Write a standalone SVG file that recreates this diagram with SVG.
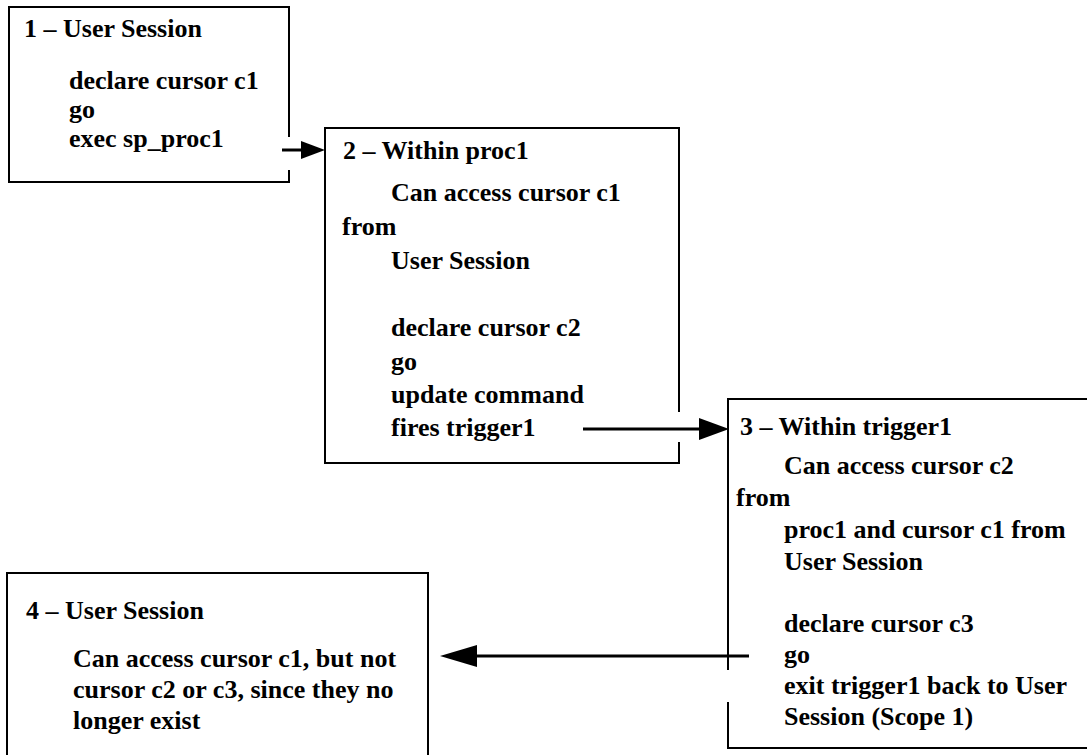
<svg xmlns="http://www.w3.org/2000/svg" width="1087" height="755" viewBox="0 0 1087 755">
<style>
.box{fill:none;stroke:#000;stroke-width:2}
text{font-family:'Liberation Serif','Times New Roman',serif;font-weight:700;font-size:26px;fill:#000}
.conn{fill:none;stroke:#000;stroke-width:3}
.head{fill:#000;stroke:none}
</style>
<rect width="1087" height="755" fill="#fff"/>
<g id="node1">
<path class="box" d="M289,137 V7 H9 V182 H289 V170"/>
<text x="24" y="37">1 – User Session</text>
<text x="69" y="89">declare cursor c1</text>
<text x="69" y="118">go</text>
<text x="69" y="147">exec sp_proc1</text>
</g>
<g id="node2">
<path class="box" d="M679,412 V128 H325 V463 H679 V442"/>
<text x="343" y="159">2 – Within proc1</text>
<text x="391" y="201">Can access cursor c1</text>
<text x="342" y="235">from</text>
<text x="391" y="269">User Session</text>
<text x="391" y="336">declare cursor c2</text>
<text x="391" y="370">go</text>
<text x="391" y="403">update command</text>
<text x="391" y="436">fires trigger1</text>
</g>
<g id="node3">
<path class="box" d="M1090,399 H728 V670 M728,702 V748 H1090"/>
<text x="740" y="435">3 – Within trigger1</text>
<text x="784" y="474">Can access cursor c2</text>
<text x="736" y="506">from</text>
<text x="784" y="538">proc1 and cursor c1 from</text>
<text x="784" y="570">User Session</text>
<text x="784" y="632">declare cursor c3</text>
<text x="784" y="663">go</text>
<text x="784" y="694">exit trigger1 back to User</text>
<text x="784" y="725">Session (Scope 1)</text>
</g>
<g id="node4">
<path class="box" d="M7,760 V573 H428 V760"/>
<text x="26" y="619">4 – User Session</text>
<text x="73" y="667">Can access cursor c1, but not</text>
<text x="73" y="698">cursor c2 or c3, since they no</text>
<text x="73" y="729">longer exist</text>
</g>
<g id="connectors">
<line class="conn" x1="282" y1="150" x2="304" y2="150"/>
<polygon class="head" points="325,150 301,141 301,159"/>
<line class="conn" x1="583" y1="429" x2="702" y2="429"/>
<polygon class="head" points="729,429 699,418 699,440"/>
<line class="conn" x1="749" y1="656" x2="474" y2="656"/>
<polygon class="head" points="440,656 477,645 477,667"/>
</g>
</svg>
